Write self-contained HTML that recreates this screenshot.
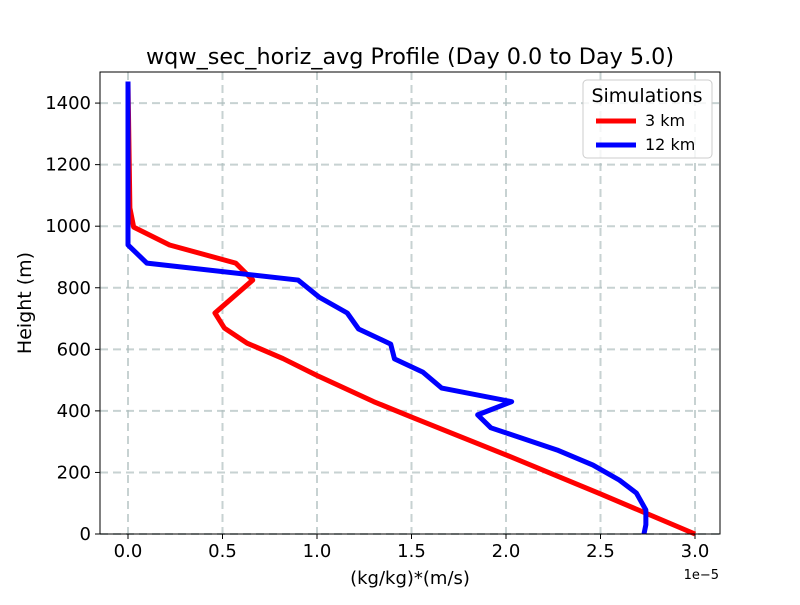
<!DOCTYPE html>
<html><head><meta charset="utf-8"><style>
body{margin:0;background:#fff;font-family:"Liberation Sans","DejaVu Sans",sans-serif}
</style></head><body>
<svg id="chart" width="800" height="600" xmlns="http://www.w3.org/2000/svg" font-family="DejaVu Sans, Liberation Sans, sans-serif">
<rect width="800" height="600" fill="#fff"/>
<g id="grid"></g>
<g id="series"></g>
<rect x="100" y="72" width="620" height="462" fill="none" stroke="#000" stroke-width="1"/>
<g id="ticks"></g>
<text x="410" y="64" text-anchor="middle" font-size="22.3">wqw_sec_horiz_avg Profile (Day 0.0 to Day 5.0)</text>
<text x="410" y="584" text-anchor="middle" font-size="18">(kg/kg)*(m/s)</text>
<text x="719" y="579" text-anchor="end" font-size="13">1e−5</text>
<text transform="translate(31,303) rotate(-90)" text-anchor="middle" font-size="19">Height (m)</text>
<g>
<rect x="583" y="80" width="129" height="78" rx="4" fill="#fff" fill-opacity="0.8" stroke="#ccc"/>
<text x="647" y="102" text-anchor="middle" font-size="19">Simulations</text>
<line x1="596" y1="121" x2="636" y2="121" stroke="#f00" stroke-width="5"/>
<text x="645" y="126" font-size="16">3 km</text>
<line x1="596" y1="145" x2="636" y2="145" stroke="#00f" stroke-width="5"/>
<text x="645" y="150" font-size="16">12 km</text>
</g>
</svg>
<script>
const xTicks=[0,0.5,1.0,1.5,2.0,2.5,3.0];
const xTickLabels=["0.0","0.5","1.0","1.5","2.0","2.5","3.0"];
const yTicks=[0,200,400,600,800,1000,1200,1400];
const red3kmHeights=[0,130,257,380,430,515,570,620,669,718,825,880,939,997,1059,1470];
const red3kmValues=[3.0,2.5,2.0,1.5,1.3,1.0,0.82,0.63,0.51,0.46,0.66,0.57,0.22,0.03,0.01,0.0];
const blue12kmHeights=[0,30,78,133,175,224,273,345,387,430,474,526,569,617,666,718,770,825,880,939,1470];
const blue12kmValues=[2.73,2.74,2.74,2.69,2.6,2.46,2.27,1.92,1.85,2.03,1.66,1.56,1.41,1.39,1.22,1.16,1.01,0.9,0.1,0.0,0.0];
const X=v=>128+v*189, Y=h=>534-h*0.3078;
const NS="http://www.w3.org/2000/svg";
const grid=document.getElementById('grid'),ticks=document.getElementById('ticks'),series=document.getElementById('series');
function mk(t,a,p){const e=document.createElementNS(NS,t);for(const k in a)e.setAttribute(k,a[k]);p.appendChild(e);return e;}
xTicks.forEach((v,i)=>{
 const g=mk('line',{x1:X(v),x2:X(v),y1:72,y2:534,stroke:'#b0bfbf','stroke-width':2,'stroke-dasharray':'8,5',opacity:0.7},grid);
 
 
 mk('line',{x1:X(v),x2:X(v),y1:534,y2:539,stroke:'#000'},ticks);
 const t=mk('text',{x:X(v),y:557,'text-anchor':'middle','font-size':18},ticks);t.textContent=xTickLabels[i];
 
 
});
yTicks.forEach(v=>{
 const g=mk('line',{x1:100,x2:720,y1:Y(v),y2:Y(v),stroke:'#b0bfbf','stroke-width':2,'stroke-dasharray':'8,5',opacity:0.7},grid);
 
 
 mk('line',{x1:95,x2:100,y1:Y(v),y2:Y(v),stroke:'#000'},ticks);
 const t=mk('text',{x:91,y:Y(v)+6,'text-anchor':'end','font-size':18},ticks);t.textContent=v;
 
 
});
function line(hs,vs,c,name){
 const p=mk('polyline',{points:hs.map((h,i)=>X(vs[i])+','+Y(h)).join(' '),fill:'none',stroke:c,'stroke-width':5,'stroke-linejoin':'round'},series);
 
 
}
line(red3kmHeights,red3kmValues,'#f00','series-3km');
line(blue12kmHeights,blue12kmValues,'#00f','series-12km');
</script>
</body></html>
